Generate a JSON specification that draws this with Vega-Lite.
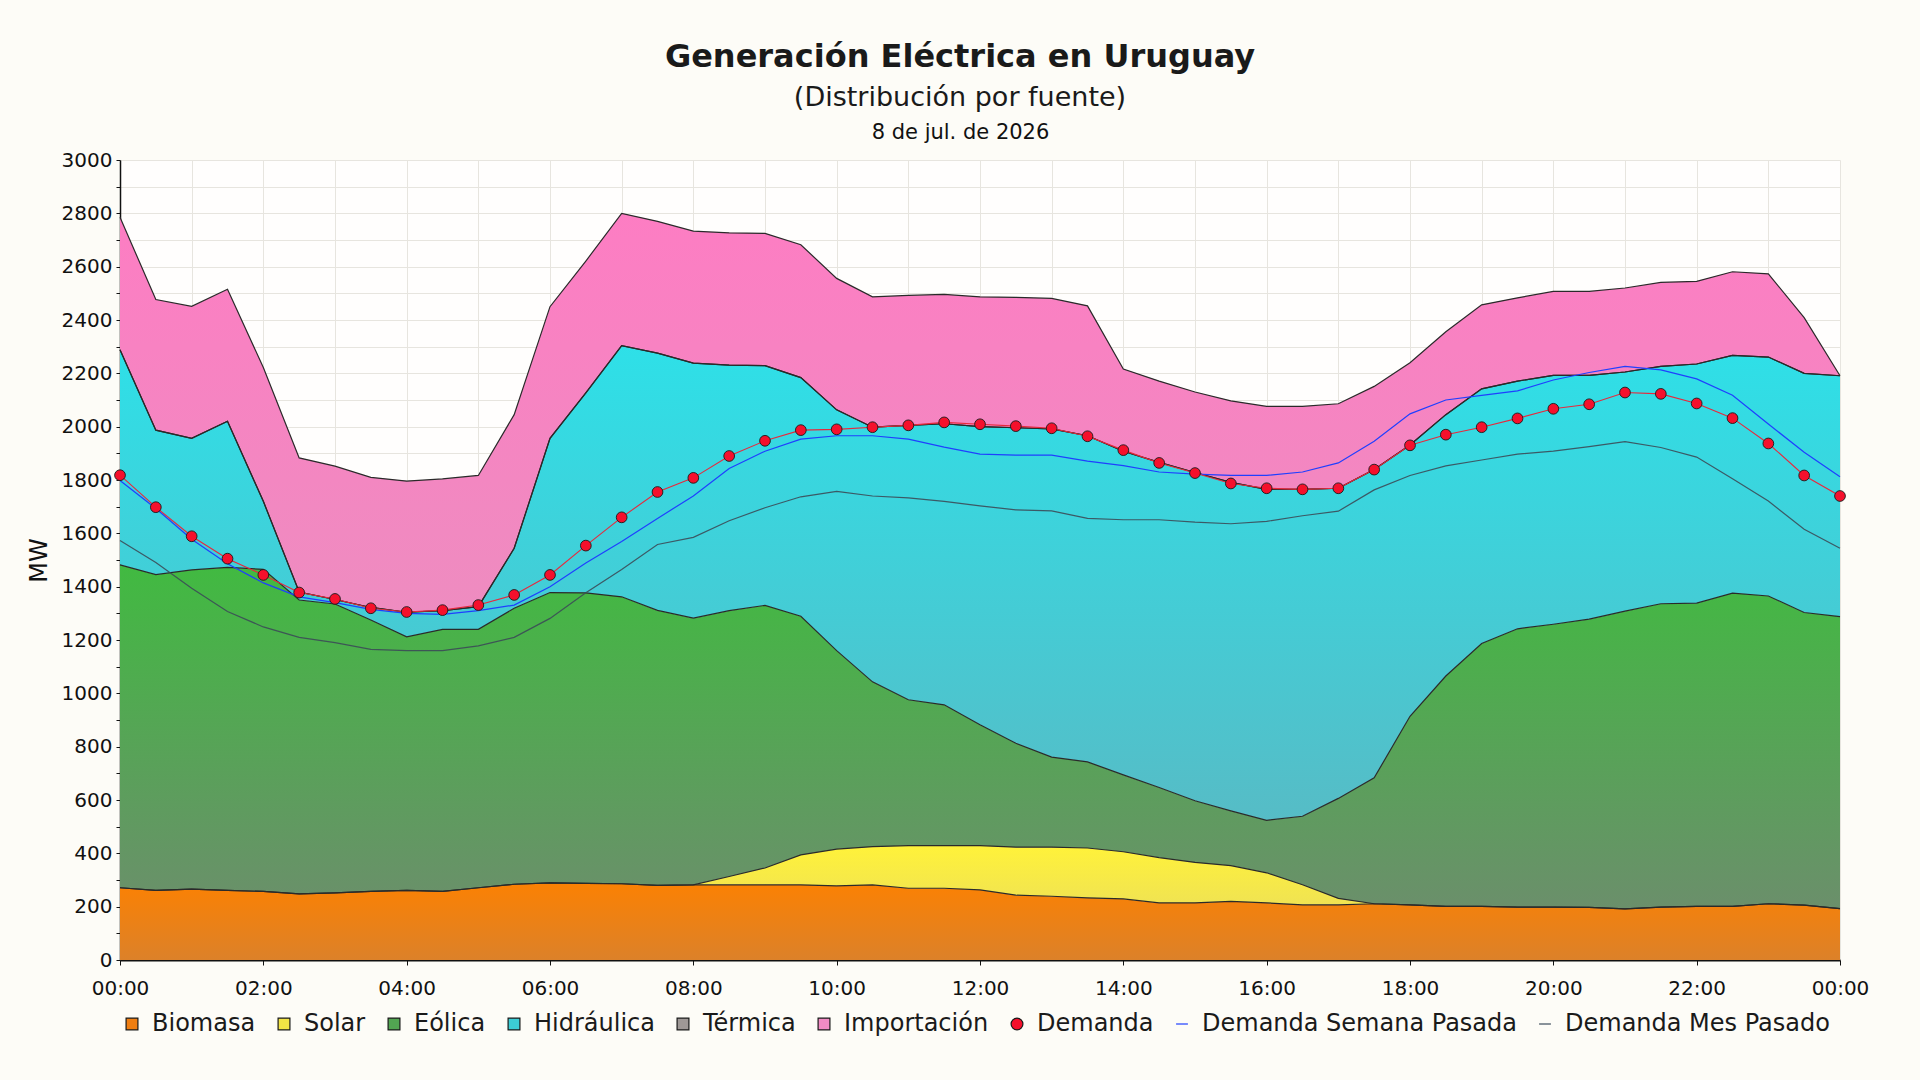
{
  "$schema": "https://vega.github.io/schema/vega-lite/v6.json",
  "width": 1720,
  "height": 800,
  "autosize": {"type": "none"},
  "padding": {"left": 120, "top": 160, "right": 80, "bottom": 120},
  "background": "#fdfcf7",
  "config": {
    "view": {"fill": "#fffefd", "stroke": null},
    "font": "DejaVu Sans",
    "axis": {"labelFont": "DejaVu Sans", "titleFont": "DejaVu Sans", "labelColor": "#111111", "titleColor": "#111111", "tickColor": "#111111", "domainColor": "#111111", "gridColor": "#e7e5df", "gridWidth": 1}
  },
  "title": {
    "text": "Generación Eléctrica en Uruguay",
    "subtitle": "(Distribución por fuente)",
    "anchor": "middle",
    "frame": "group",
    "dx": -20,
    "offset": 9,
    "font": "DejaVu Sans",
    "fontSize": 32,
    "fontWeight": "bold",
    "color": "#1a1a1a",
    "subtitleFont": "DejaVu Sans",
    "subtitleFontSize": 27,
    "subtitleColor": "#1a1a1a",
    "subtitlePadding": 11
  },
  "data": {
    "values": [
      {"hora": "2026-07-08T00:00", "Biomasa": 271, "Solar": 0, "Eólica": 1211, "Hidráulica": 806, "Térmica": 0, "Importación": 497, "Demanda": 1818, "Demanda Semana Pasada": 1798, "Demanda Mes Pasado": 1573},
      {"hora": "2026-07-08T00:30", "Biomasa": 261, "Solar": 0, "Eólica": 1184, "Hidráulica": 542, "Térmica": 0, "Importación": 490, "Demanda": 1698, "Demanda Semana Pasada": 1693, "Demanda Mes Pasado": 1491},
      {"hora": "2026-07-08T01:00", "Biomasa": 266, "Solar": 0, "Eólica": 1197, "Hidráulica": 493, "Térmica": 0, "Importación": 495, "Demanda": 1589, "Demanda Semana Pasada": 1578, "Demanda Mes Pasado": 1394},
      {"hora": "2026-07-08T01:30", "Biomasa": 261, "Solar": 0, "Eólica": 1211, "Hidráulica": 548, "Térmica": 0, "Importación": 495, "Demanda": 1505, "Demanda Semana Pasada": 1486, "Demanda Mes Pasado": 1307},
      {"hora": "2026-07-08T02:00", "Biomasa": 257, "Solar": 0, "Eólica": 1208, "Hidráulica": 255, "Térmica": 0, "Importación": 502, "Demanda": 1444, "Demanda Semana Pasada": 1414, "Demanda Mes Pasado": 1249},
      {"hora": "2026-07-08T02:30", "Biomasa": 248, "Solar": 0, "Eólica": 1102, "Hidráulica": 30, "Térmica": 0, "Importación": 503, "Demanda": 1378, "Demanda Semana Pasada": 1362, "Demanda Mes Pasado": 1210},
      {"hora": "2026-07-08T03:00", "Biomasa": 252, "Solar": 0, "Eólica": 1083, "Hidráulica": 17, "Térmica": 0, "Importación": 500, "Demanda": 1354, "Demanda Semana Pasada": 1340, "Demanda Mes Pasado": 1190},
      {"hora": "2026-07-08T03:30", "Biomasa": 257, "Solar": 0, "Eólica": 1018, "Hidráulica": 47, "Térmica": 0, "Importación": 488, "Demanda": 1319, "Demanda Semana Pasada": 1315, "Demanda Mes Pasado": 1165},
      {"hora": "2026-07-08T04:00", "Biomasa": 261, "Solar": 0, "Eólica": 951, "Hidráulica": 92, "Térmica": 0, "Importación": 492, "Demanda": 1305, "Demanda Semana Pasada": 1300, "Demanda Mes Pasado": 1160},
      {"hora": "2026-07-08T04:30", "Biomasa": 257, "Solar": 0, "Eólica": 983, "Hidráulica": 70, "Térmica": 0, "Importación": 494, "Demanda": 1312, "Demanda Semana Pasada": 1296, "Demanda Mes Pasado": 1160},
      {"hora": "2026-07-08T05:00", "Biomasa": 271, "Solar": 0, "Eólica": 969, "Hidráulica": 85, "Térmica": 0, "Importación": 492, "Demanda": 1331, "Demanda Semana Pasada": 1310, "Demanda Mes Pasado": 1178},
      {"hora": "2026-07-08T05:30", "Biomasa": 284, "Solar": 0, "Eólica": 1035, "Hidráulica": 225, "Térmica": 0, "Importación": 501, "Demanda": 1369, "Demanda Semana Pasada": 1331, "Demanda Mes Pasado": 1210},
      {"hora": "2026-07-08T06:00", "Biomasa": 289, "Solar": 0, "Eólica": 1089, "Hidráulica": 578, "Térmica": 0, "Importación": 494, "Demanda": 1444, "Demanda Semana Pasada": 1400, "Demanda Mes Pasado": 1281},
      {"hora": "2026-07-08T06:30", "Biomasa": 287, "Solar": 0, "Eólica": 1090, "Hidráulica": 750, "Térmica": 0, "Importación": 494, "Demanda": 1554, "Demanda Semana Pasada": 1489, "Demanda Mes Pasado": 1377},
      {"hora": "2026-07-08T07:00", "Biomasa": 286, "Solar": 0, "Eólica": 1076, "Hidráulica": 942, "Térmica": 0, "Importación": 496, "Demanda": 1660, "Demanda Semana Pasada": 1569, "Demanda Mes Pasado": 1464},
      {"hora": "2026-07-08T07:30", "Biomasa": 280, "Solar": 0, "Eólica": 1031, "Hidráulica": 965, "Térmica": 0, "Importación": 494, "Demanda": 1755, "Demanda Semana Pasada": 1656, "Demanda Mes Pasado": 1558},
      {"hora": "2026-07-08T08:00", "Biomasa": 282, "Solar": 0, "Eólica": 1000, "Hidráulica": 956, "Térmica": 0, "Importación": 495, "Demanda": 1808, "Demanda Semana Pasada": 1740, "Demanda Mes Pasado": 1585},
      {"hora": "2026-07-08T08:30", "Biomasa": 282, "Solar": 31, "Eólica": 997, "Hidráulica": 921, "Térmica": 0, "Importación": 496, "Demanda": 1890, "Demanda Semana Pasada": 1843, "Demanda Mes Pasado": 1647},
      {"hora": "2026-07-08T09:00", "Biomasa": 282, "Solar": 63, "Eólica": 985, "Hidráulica": 899, "Térmica": 0, "Importación": 496, "Demanda": 1947, "Demanda Semana Pasada": 1908, "Demanda Mes Pasado": 1696},
      {"hora": "2026-07-08T09:30", "Biomasa": 282, "Solar": 112, "Eólica": 895, "Hidráulica": 895, "Térmica": 0, "Importación": 498, "Demanda": 1987, "Demanda Semana Pasada": 1953, "Demanda Mes Pasado": 1737},
      {"hora": "2026-07-08T10:00", "Biomasa": 278, "Solar": 138, "Eólica": 744, "Hidráulica": 903, "Térmica": 0, "Importación": 493, "Demanda": 1990, "Demanda Semana Pasada": 1966, "Demanda Mes Pasado": 1757},
      {"hora": "2026-07-08T10:30", "Biomasa": 282, "Solar": 143, "Eólica": 618, "Hidráulica": 955, "Térmica": 0, "Importación": 489, "Demanda": 1998, "Demanda Semana Pasada": 1966, "Demanda Mes Pasado": 1740},
      {"hora": "2026-07-08T11:00", "Biomasa": 269, "Solar": 160, "Eólica": 547, "Hidráulica": 1029, "Térmica": 0, "Importación": 487, "Demanda": 2005, "Demanda Semana Pasada": 1953, "Demanda Mes Pasado": 1733},
      {"hora": "2026-07-08T11:30", "Biomasa": 269, "Solar": 160, "Eólica": 528, "Hidráulica": 1054, "Térmica": 0, "Importación": 485, "Demanda": 2016, "Demanda Semana Pasada": 1923, "Demanda Mes Pasado": 1720},
      {"hora": "2026-07-08T12:00", "Biomasa": 263, "Solar": 166, "Eólica": 453, "Hidráulica": 1118, "Térmica": 0, "Importación": 487, "Demanda": 2009, "Demanda Semana Pasada": 1897, "Demanda Mes Pasado": 1703},
      {"hora": "2026-07-08T12:30", "Biomasa": 243, "Solar": 180, "Eólica": 390, "Hidráulica": 1183, "Térmica": 0, "Importación": 489, "Demanda": 2002, "Demanda Semana Pasada": 1893, "Demanda Mes Pasado": 1688},
      {"hora": "2026-07-08T13:00", "Biomasa": 239, "Solar": 184, "Eólica": 338, "Hidráulica": 1231, "Térmica": 0, "Importación": 489, "Demanda": 1994, "Demanda Semana Pasada": 1893, "Demanda Mes Pasado": 1684},
      {"hora": "2026-07-08T13:30", "Biomasa": 233, "Solar": 187, "Eólica": 323, "Hidráulica": 1223, "Térmica": 0, "Importación": 487, "Demanda": 1964, "Demanda Semana Pasada": 1871, "Demanda Mes Pasado": 1656},
      {"hora": "2026-07-08T14:00", "Biomasa": 229, "Solar": 177, "Eólica": 288, "Hidráulica": 1214, "Térmica": 0, "Importación": 308, "Demanda": 1912, "Demanda Semana Pasada": 1854, "Demanda Mes Pasado": 1651},
      {"hora": "2026-07-08T14:30", "Biomasa": 214, "Solar": 170, "Eólica": 263, "Hidráulica": 1219, "Térmica": 0, "Importación": 305, "Demanda": 1864, "Demanda Semana Pasada": 1830, "Demanda Mes Pasado": 1651},
      {"hora": "2026-07-08T15:00", "Biomasa": 214, "Solar": 152, "Eólica": 231, "Hidráulica": 1231, "Térmica": 0, "Importación": 302, "Demanda": 1826, "Demanda Semana Pasada": 1822, "Demanda Mes Pasado": 1642},
      {"hora": "2026-07-08T15:30", "Biomasa": 220, "Solar": 134, "Eólica": 205, "Hidráulica": 1232, "Térmica": 0, "Importación": 306, "Demanda": 1787, "Demanda Semana Pasada": 1817, "Demanda Mes Pasado": 1636},
      {"hora": "2026-07-08T16:00", "Biomasa": 214, "Solar": 113, "Eólica": 197, "Hidráulica": 1241, "Térmica": 0, "Importación": 311, "Demanda": 1769, "Demanda Semana Pasada": 1817, "Demanda Mes Pasado": 1645},
      {"hora": "2026-07-08T16:30", "Biomasa": 207, "Solar": 75, "Eólica": 257, "Hidráulica": 1226, "Térmica": 0, "Importación": 311, "Demanda": 1765, "Demanda Semana Pasada": 1830, "Demanda Mes Pasado": 1666},
      {"hora": "2026-07-08T17:00", "Biomasa": 207, "Solar": 24, "Eólica": 375, "Hidráulica": 1163, "Térmica": 0, "Importación": 317, "Demanda": 1769, "Demanda Semana Pasada": 1864, "Demanda Mes Pasado": 1683},
      {"hora": "2026-07-08T17:30", "Biomasa": 211, "Solar": 0, "Eólica": 472, "Hidráulica": 1156, "Térmica": 0, "Importación": 312, "Demanda": 1839, "Demanda Semana Pasada": 1945, "Demanda Mes Pasado": 1763},
      {"hora": "2026-07-08T18:00", "Biomasa": 207, "Solar": 0, "Eólica": 707, "Hidráulica": 1017, "Térmica": 0, "Importación": 309, "Demanda": 1930, "Demanda Semana Pasada": 2048, "Demanda Mes Pasado": 1817},
      {"hora": "2026-07-08T18:30", "Biomasa": 201, "Solar": 0, "Eólica": 864, "Hidráulica": 980, "Térmica": 0, "Importación": 311, "Demanda": 1970, "Demanda Semana Pasada": 2100, "Demanda Mes Pasado": 1853},
      {"hora": "2026-07-08T19:00", "Biomasa": 201, "Solar": 0, "Eólica": 986, "Hidráulica": 955, "Térmica": 0, "Importación": 315, "Demanda": 1998, "Demanda Semana Pasada": 2117, "Demanda Mes Pasado": 1875},
      {"hora": "2026-07-08T19:30", "Biomasa": 198, "Solar": 0, "Eólica": 1044, "Hidráulica": 929, "Térmica": 0, "Importación": 312, "Demanda": 2031, "Demanda Semana Pasada": 2134, "Demanda Mes Pasado": 1897},
      {"hora": "2026-07-08T20:00", "Biomasa": 198, "Solar": 0, "Eólica": 1061, "Hidráulica": 933, "Térmica": 0, "Importación": 315, "Demanda": 2067, "Demanda Semana Pasada": 2175, "Demanda Mes Pasado": 1908},
      {"hora": "2026-07-08T20:30", "Biomasa": 197, "Solar": 0, "Eólica": 1081, "Hidráulica": 914, "Térmica": 0, "Importación": 315, "Demanda": 2084, "Demanda Semana Pasada": 2203, "Demanda Mes Pasado": 1925},
      {"hora": "2026-07-08T21:00", "Biomasa": 192, "Solar": 0, "Eólica": 1116, "Hidráulica": 897, "Térmica": 0, "Importación": 315, "Demanda": 2128, "Demanda Semana Pasada": 2226, "Demanda Mes Pasado": 1944},
      {"hora": "2026-07-08T21:30", "Biomasa": 198, "Solar": 0, "Eólica": 1138, "Hidráulica": 890, "Térmica": 0, "Importación": 315, "Demanda": 2123, "Demanda Semana Pasada": 2213, "Demanda Mes Pasado": 1922},
      {"hora": "2026-07-08T22:00", "Biomasa": 201, "Solar": 0, "Eólica": 1137, "Hidráulica": 897, "Térmica": 0, "Importación": 310, "Demanda": 2087, "Demanda Semana Pasada": 2179, "Demanda Mes Pasado": 1886},
      {"hora": "2026-07-08T22:30", "Biomasa": 201, "Solar": 0, "Eólica": 1175, "Hidráulica": 891, "Térmica": 0, "Importación": 314, "Demanda": 2032, "Demanda Semana Pasada": 2118, "Demanda Mes Pasado": 1805},
      {"hora": "2026-07-08T23:00", "Biomasa": 211, "Solar": 0, "Eólica": 1154, "Hidráulica": 896, "Térmica": 0, "Importación": 312, "Demanda": 1937, "Demanda Semana Pasada": 2010, "Demanda Mes Pasado": 1721},
      {"hora": "2026-07-08T23:30", "Biomasa": 206, "Solar": 0, "Eólica": 1097, "Hidráulica": 897, "Térmica": 0, "Importación": 209, "Demanda": 1817, "Demanda Semana Pasada": 1904, "Demanda Mes Pasado": 1615},
      {"hora": "2026-07-09T00:00", "Biomasa": 193, "Solar": 0, "Eólica": 1095, "Hidráulica": 903, "Térmica": 0, "Importación": 0, "Demanda": 1740, "Demanda Semana Pasada": 1812, "Demanda Mes Pasado": 1544}
    ]
  },
  "resolve": {"axis": {"x": "independent", "y": "independent"}},
  "layer": [
    {
      "transform": [
        {"fold": ["Biomasa", "Solar", "Eólica", "Hidráulica", "Térmica", "Importación"], "as": ["serie", "mw"]},
        {"window": [{"op": "row_number", "as": "orden"}], "groupby": ["hora"]},
        {"stack": "mw", "groupby": ["hora"], "sort": [{"field": "orden", "order": "ascending"}], "as": ["y0", "y1"]}
      ],
      "encoding": {
        "x": {
          "field": "hora", "type": "temporal", "title": null,
          "scale": {"nice": false},
          "axis": {
            "values": [
              {"year": 2026, "month": 7, "date": 8, "hours": 0}, {"year": 2026, "month": 7, "date": 8, "hours": 2}, {"year": 2026, "month": 7, "date": 8, "hours": 4},
              {"year": 2026, "month": 7, "date": 8, "hours": 6}, {"year": 2026, "month": 7, "date": 8, "hours": 8}, {"year": 2026, "month": 7, "date": 8, "hours": 10},
              {"year": 2026, "month": 7, "date": 8, "hours": 12}, {"year": 2026, "month": 7, "date": 8, "hours": 14}, {"year": 2026, "month": 7, "date": 8, "hours": 16},
              {"year": 2026, "month": 7, "date": 8, "hours": 18}, {"year": 2026, "month": 7, "date": 8, "hours": 20}, {"year": 2026, "month": 7, "date": 8, "hours": 22},
              {"year": 2026, "month": 7, "date": 9, "hours": 0}
            ],
            "format": "%H:%M",
            "labelFlush": false, "labelOverlap": false,
            "labelFontSize": 20, "labelPadding": 13,
            "tickSize": 5,
            "domainWidth": 2, "grid": false
          }
        },
        "y": {
          "field": "y1", "type": "quantitative", "stack": null, "title": "MW",
          "scale": {"domain": [0, 3000], "nice": false},
          "axis": {
            "values": [0, 100, 200, 300, 400, 500, 600, 700, 800, 900, 1000, 1100, 1200, 1300, 1400, 1500, 1600, 1700, 1800, 1900, 2000, 2100, 2200, 2300, 2400, 2500, 2600, 2700, 2800, 2900, 3000],
            "format": "d",
            "labelExpr": "datum.value % 200 === 0 ? datum.label : ''",
            "labelFlush": false, "labelOverlap": false,
            "labelFontSize": 20, "labelPadding": 4,
            "tickSize": 4,
            "domainWidth": 1.5, "grid": true,
            "titleFontSize": 24, "titleFontWeight": "normal", "titlePadding": 10
          }
        }
      },
      "layer": [
        {"transform": [{"filter": "datum.serie === 'Biomasa'"}], "encoding": {"y2": {"field": "y0"}},
         "mark": {"type": "area", "color": {"gradient": "linear", "x1": 0, "y1": 0, "x2": 0, "y2": 1, "stops": [{"offset": 0, "color": "#fb8103"}, {"offset": 1, "color": "#dc8129"}]}}},
        {"transform": [{"filter": "datum.serie === 'Solar'"}], "encoding": {"y2": {"field": "y0"}},
         "mark": {"type": "area", "color": {"gradient": "linear", "x1": 0, "y1": 0, "x2": 0, "y2": 1, "stops": [{"offset": 0, "color": "#fff23a"}, {"offset": 1, "color": "#efe254"}]}}},
        {"transform": [{"filter": "datum.serie === 'Eólica'"}], "encoding": {"y2": {"field": "y0"}},
         "mark": {"type": "area", "color": {"gradient": "linear", "x1": 0, "y1": 0, "x2": 0, "y2": 1, "stops": [{"offset": 0, "color": "#41ba41"}, {"offset": 1, "color": "#6b8f6b"}]}}},
        {"transform": [{"filter": "datum.serie === 'Hidráulica'"}], "encoding": {"y2": {"field": "y0"}},
         "mark": {"type": "area", "color": {"gradient": "linear", "x1": 0, "y1": 0, "x2": 0, "y2": 1, "stops": [{"offset": 0, "color": "#2ee0e8"}, {"offset": 1, "color": "#56bcc6"}]}}},
        {"transform": [{"filter": "datum.serie === 'Importación'"}], "encoding": {"y2": {"field": "y0"}},
         "mark": {"type": "area", "color": {"gradient": "linear", "x1": 0, "y1": 0, "x2": 0, "y2": 1, "stops": [{"offset": 0, "color": "#fd7dc3"}, {"offset": 1, "color": "#ee8cc0"}]}}},
        {"mark": {"type": "line", "color": "#2a2a2a", "strokeWidth": 1.2},
         "encoding": {"detail": {"field": "serie"}}}
      ]
    },
    {
      "mark": {"type": "line", "color": "#3c4b58", "strokeWidth": 1.2, "opacity": 0.9},
      "encoding": {
        "x": {"field": "hora", "type": "temporal",
              "axis": {
                "values": [
                  {"year": 2026, "month": 7, "date": 8, "hours": 0}, {"year": 2026, "month": 7, "date": 8, "hours": 1}, {"year": 2026, "month": 7, "date": 8, "hours": 2},
                  {"year": 2026, "month": 7, "date": 8, "hours": 3}, {"year": 2026, "month": 7, "date": 8, "hours": 4}, {"year": 2026, "month": 7, "date": 8, "hours": 5},
                  {"year": 2026, "month": 7, "date": 8, "hours": 6}, {"year": 2026, "month": 7, "date": 8, "hours": 7}, {"year": 2026, "month": 7, "date": 8, "hours": 8},
                  {"year": 2026, "month": 7, "date": 8, "hours": 9}, {"year": 2026, "month": 7, "date": 8, "hours": 10}, {"year": 2026, "month": 7, "date": 8, "hours": 11},
                  {"year": 2026, "month": 7, "date": 8, "hours": 12}, {"year": 2026, "month": 7, "date": 8, "hours": 13}, {"year": 2026, "month": 7, "date": 8, "hours": 14},
                  {"year": 2026, "month": 7, "date": 8, "hours": 15}, {"year": 2026, "month": 7, "date": 8, "hours": 16}, {"year": 2026, "month": 7, "date": 8, "hours": 17},
                  {"year": 2026, "month": 7, "date": 8, "hours": 18}, {"year": 2026, "month": 7, "date": 8, "hours": 19}, {"year": 2026, "month": 7, "date": 8, "hours": 20},
                  {"year": 2026, "month": 7, "date": 8, "hours": 21}, {"year": 2026, "month": 7, "date": 8, "hours": 22}, {"year": 2026, "month": 7, "date": 8, "hours": 23},
                  {"year": 2026, "month": 7, "date": 9, "hours": 0}
                ],
                "grid": true, "labels": false, "ticks": false, "domain": false, "title": null
              }},
        "y": {"field": "Demanda Mes Pasado", "type": "quantitative", "axis": null}
      }
    },
    {
      "mark": {"type": "line", "color": "#1f3fff", "strokeWidth": 1.2},
      "encoding": {
        "x": {"field": "hora", "type": "temporal", "axis": null},
        "y": {"field": "Demanda Semana Pasada", "type": "quantitative", "axis": null}
      }
    },
    {
      "mark": {"type": "line", "color": "#e8283c", "strokeWidth": 1.1},
      "encoding": {
        "x": {"field": "hora", "type": "temporal",
              "axis": {"orient": "top", "title": "8 de jul. de 2026", "labels": false, "ticks": false, "domain": false, "grid": false,
                       "titleFontSize": 21, "titleFontWeight": "normal", "titleX": 840, "titleY": -28, "titleBaseline": "middle"}},
        "y": {"field": "Demanda", "type": "quantitative", "axis": null}
      }
    },
    {
      "mark": {"type": "point", "filled": true, "size": 115, "strokeWidth": 0.9, "opacity": 1},
      "encoding": {
        "x": {"field": "hora", "type": "temporal", "axis": null},
        "y": {"field": "Demanda", "type": "quantitative", "axis": null},
        "color": {
          "datum": "Demanda", "type": "nominal",
          "scale": {
            "domain": ["Biomasa", "Solar", "Eólica", "Hidráulica", "Térmica", "Importación", "Demanda", "Demanda Semana Pasada", "Demanda Mes Pasado"],
            "range": ["#ef7e12", "#f2e445", "#52a552", "#3ccdd5", "#9e9896", "#f28bc4", "#f5102c", "#1f3fff", "#3c4c5c"]
          },
          "legend": {
            "title": null, "orient": "bottom", "direction": "horizontal", "offset": 14,
            "labelFont": "DejaVu Sans", "labelFontSize": 24, "labelColor": "#1a1a1a", "labelOffset": 8, "columnPadding": 16, "labelLimit": 600,
            "symbolSize": 140, "symbolStrokeWidth": 1.2
          }
        },
        "stroke": {
          "datum": "Demanda", "type": "nominal",
          "scale": {
            "domain": ["Biomasa", "Solar", "Eólica", "Hidráulica", "Térmica", "Importación", "Demanda", "Demanda Semana Pasada", "Demanda Mes Pasado"],
            "range": ["#1a1a1a", "#1a1a1a", "#1a1a1a", "#1a1a1a", "#1a1a1a", "#1a1a1a", "#1a1a1a", "#1f3fff", "#3c4c5c"]
          },
          "legend": {
            "title": null, "orient": "bottom", "direction": "horizontal", "offset": 14,
            "labelFont": "DejaVu Sans", "labelFontSize": 24, "labelColor": "#1a1a1a", "labelOffset": 8, "columnPadding": 16, "labelLimit": 600,
            "symbolSize": 140, "symbolStrokeWidth": 1.2
          }
        },
        "shape": {
          "datum": "Demanda", "type": "nominal",
          "scale": {
            "domain": ["Biomasa", "Solar", "Eólica", "Hidráulica", "Térmica", "Importación", "Demanda", "Demanda Semana Pasada", "Demanda Mes Pasado"],
            "range": ["square", "square", "square", "square", "square", "square", "circle", "stroke", "stroke"]
          },
          "legend": {
            "title": null, "orient": "bottom", "direction": "horizontal", "offset": 14,
            "labelFont": "DejaVu Sans", "labelFontSize": 24, "labelColor": "#1a1a1a", "labelOffset": 8, "columnPadding": 16, "labelLimit": 600,
            "symbolSize": 140, "symbolStrokeWidth": 1.2
          }
        }
      }
    }
  ]
}
